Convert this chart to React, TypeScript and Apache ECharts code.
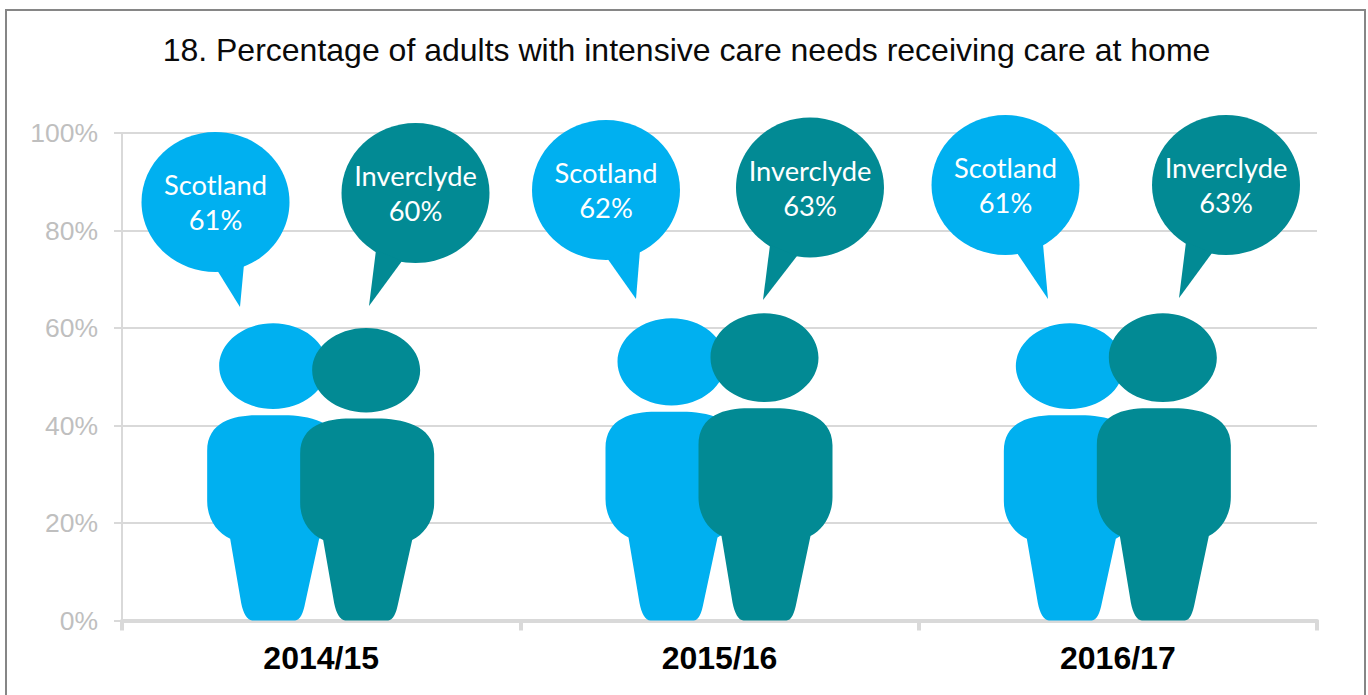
import React, { useEffect, useRef } from "react";
import * as echarts from "echarts";

const years = ["2014/15", "2015/16", "2016/17"];
const scotland = [61, 62, 61];
const inverclyde = [60, 63, 63];
const yTicks = { min: 0, max: 100, step: 20 };

const BLUE = "#00B0F0";
const TEAL = "#028A94";
const GRID = "#D9D9D9";

// Person glyph: an elliptical head above a rounded torso that tapers to the feet.
const PERSON =
  "path://M12,42 C12,19 36,0 66,0 C96,0 120,19 120,42 C120,65 96,84 66,84 C36,84 12,65 12,42 Z " +
  "M50,90 L77,90 C100,90 134,96 134,125 L134,174 C134,192 124,205 112,211 L98,274 C96,284 93,291 88,291 " +
  "L45,291 C40,291 36,284 34,274 L23,211 C10,205 0,192 0,174 L0,125 C0,96 27,90 50,90 Z";

// Speech bubble layout: ellipse centre and radii, tail corners, text line centres.
const scotlandBubbles = [
  { cx: 215.5, cy: 202, rx: 74, ry: 70, tail: [[217, 270], [240, 307], [244, 264]], t1: 184, t2: 219 },
  { cx: 606, cy: 190, rx: 74, ry: 70, tail: [[607, 258], [636, 299], [640, 250]], t1: 172, t2: 207 },
  { cx: 1005.5, cy: 185, rx: 74, ry: 70, tail: [[1017, 253], [1048, 299], [1043, 244]], t1: 167, t2: 202 },
];
const inverclydeBubbles = [
  { cx: 415.5, cy: 193, rx: 74, ry: 70, tail: [[376, 250], [369, 306], [402, 261]], t1: 175, t2: 210 },
  { cx: 810, cy: 187.5, rx: 74, ry: 70, tail: [[770, 245], [763, 300], [797, 256]], t1: 170, t2: 205 },
  { cx: 1226, cy: 185, rx: 74, ry: 70, tail: [[1186, 242], [1179, 298], [1212, 253]], t1: 167, t2: 202 },
];

function bubble(b: any, color: string, name: string, value: number) {
  const text = (s: string, y: number) => ({
    type: "text",
    x: b.cx,
    y,
    z: 12,
    style: {
      text: s,
      fill: "#FFFFFF",
      font: '27.3px Lato, "Noto Sans", sans-serif',
      align: "center",
      verticalAlign: "middle",
    },
  });
  return [
    { type: "ellipse", z: 10, shape: { cx: b.cx, cy: b.cy, rx: b.rx, ry: b.ry }, style: { fill: color } },
    { type: "polygon", z: 10, shape: { points: b.tail }, style: { fill: color } },
    text(name, b.t1),
    text(`${value}%`, b.t2),
  ];
}

export default function App() {
  const ref = useRef<HTMLDivElement>(null);

  useEffect(() => {
    const chart = echarts.init(ref.current!, undefined, { renderer: "svg" });
    const person = {
      type: "pictorialBar",
      symbol: PERSON,
      symbolSize: ["100%", "100%"],
      symbolPosition: "start",
      symbolOffset: [-0.5, 0],
      barWidth: 134,
      barGap: "-30.6%",
      z: 5,
    };
    chart.setOption({
      animation: false,
      backgroundColor: "#FFFFFF",
      title: {
        text: "18. Percentage of adults with intensive care needs receiving care at home",
        left: 681.5,
        top: 29,
        textAlign: "center",
        textStyle: {
          fontFamily: '"Liberation Sans", Arial, sans-serif',
          fontSize: 32,
          fontWeight: "normal",
          color: "#0A0A0A",
        },
      },
      grid: { left: 122, right: 51, top: 133, bottom: 74.5 },
      xAxis: {
        type: "category",
        data: years,
        boundaryGap: true,
        axisLine: { lineStyle: { color: GRID, width: 4 } },
        axisTick: { show: true, alignWithLabel: false, interval: 0, length: 10, lineStyle: { color: GRID, width: 4 } },
        axisLabel: {
          margin: 21,
          color: "#000000",
          fontFamily: '"Liberation Sans", Arial, sans-serif',
          fontSize: 32,
          fontWeight: "bold",
        },
      },
      yAxis: {
        type: "value",
        min: yTicks.min,
        max: yTicks.max,
        interval: yTicks.step,
        axisLine: { show: true, lineStyle: { color: GRID, width: 2 } },
        axisTick: { show: true, length: 8, lineStyle: { color: GRID, width: 2 } },
        splitLine: { lineStyle: { color: GRID, width: 2 } },
        axisLabel: {
          margin: 24,
          color: "#BFBFBF",
          fontFamily: '"Liberation Sans", Arial, sans-serif',
          fontSize: 26.5,
          formatter: "{value}%",
        },
      },
      series: [
        { ...person, name: "Scotland", data: scotland, itemStyle: { color: BLUE } },
        { ...person, name: "Inverclyde", data: inverclyde, itemStyle: { color: TEAL } },
      ],
      graphic: [
        {
          type: "rect",
          z: 0,
          shape: { x: 6, y: 10, width: 1359, height: 700 },
          style: { fill: "none", stroke: "#868686", lineWidth: 2 },
        },
        ...scotlandBubbles.flatMap((b, i) => bubble(b, BLUE, "Scotland", scotland[i])),
        ...inverclydeBubbles.flatMap((b, i) => bubble(b, TEAL, "Inverclyde", inverclyde[i])),
      ],
    });
    return () => chart.dispose();
  }, []);

  return <div ref={ref} style={{ position: "absolute", left: 0, top: 0, width: 1368, height: 695 }} />;
}
